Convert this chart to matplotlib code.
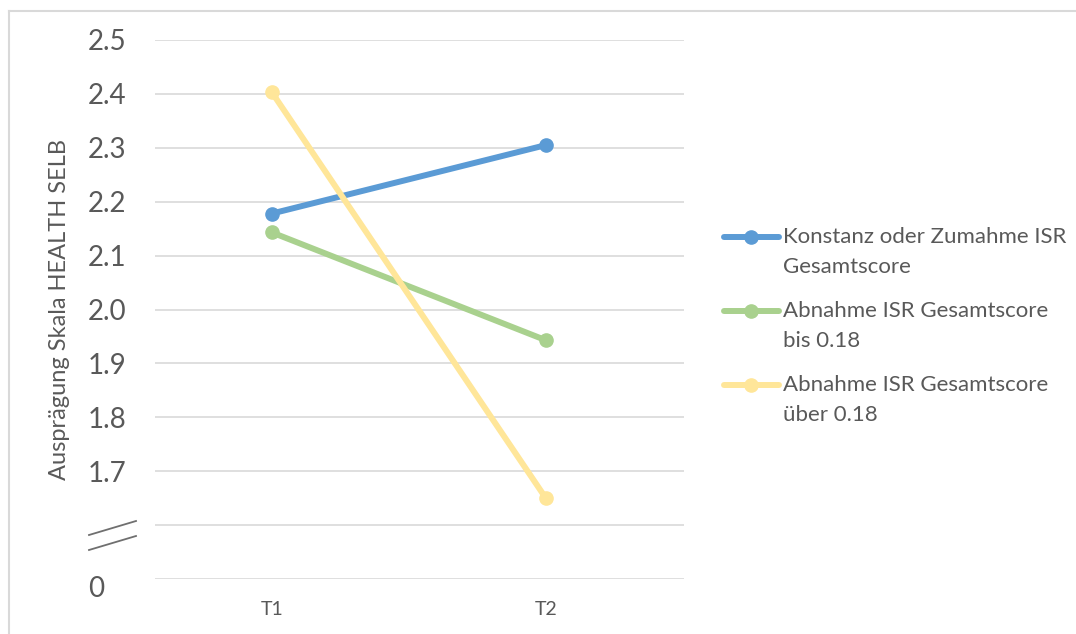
import matplotlib
matplotlib.use("Agg")
import matplotlib.pyplot as plt
from matplotlib.lines import Line2D
from matplotlib.transforms import ScaledTranslation, blended_transform_factory

# --- data ---------------------------------------------------------------
time_points = ["T1", "T2"]
series_labels = [
    "Konstanz oder Zumahme ISR\nGesamtscore",
    "Abnahme ISR Gesamtscore\nbis 0.18",
    "Abnahme ISR Gesamtscore\nüber 0.18",
]
konstanz_zunahme = [2.178, 2.305]
abnahme_bis_018 = [2.143, 1.943]
abnahme_ueber_018 = [2.403, 1.650]

# value axis: the bottom gridline stands for 0 (axis break below 1.7)
y_tick_values = [1.5, 1.6, 1.7, 1.8, 1.9, 2.0, 2.1, 2.2, 2.3, 2.4, 2.5]
y_tick_labels = ["0", "", "1.7", "1.8", "1.9", "2.0", "2.1", "2.2", "2.3", "2.4", "2.5"]
y_axis_title = "Ausprägung Skala HEALTH SELB"

# --- style ----------------------------------------------------------------
W, H = 1076, 634
colors = ["#5B9BD5", "#A9D18E", "#FFE699"]
text_color = "#595959"
grid_color = "#D9D9D9"
plt.rcParams["font.family"] = ["Lato", "DejaVu Sans"]

fig = plt.figure(figsize=(W / 100, H / 100), dpi=100)
ax = fig.add_axes([155 / W, 1 - 579 / H, (684 - 155) / W, (579 - 40) / H])

x = list(range(len(time_points)))
all_series = [konstanz_zunahme, abnahme_bis_018, abnahme_ueber_018]
for vals, col in zip(all_series, colors):
    ax.plot(x, vals, color=col, lw=4.3, marker="o", ms=9.5,
            solid_capstyle="round", zorder=3)

ax.set_xlim(-0.4265, 1.5044)
ax.set_ylim(1.5, 2.5)
ax.set_yticks(y_tick_values)
# the break-axis "0" is set a little lower, as a separate text
ax.set_yticklabels([""] + y_tick_labels[1:])
ax.set_xticks(x)
ax.set_xticklabels(time_points)
ax.yaxis.grid(True, color=grid_color, lw=1.2)
ax.set_axisbelow(True)
for s in ax.spines.values():
    s.set_visible(False)
# value labels are left-aligned in a column starting 67 px left of the plot
ax.tick_params(axis="y", length=0, pad=67 * 0.72, labelsize=20, labelcolor=text_color)
for lbl in ax.get_yticklabels():
    lbl.set_horizontalalignment("left")
ax.tick_params(axis="x", length=0, pad=16, labelsize=14, labelcolor=text_color)
ax.set_ylabel(y_axis_title, fontsize=17, color=text_color, labelpad=0)
ax.yaxis.set_label_coords((70 - 155) / (684 - 155), 0.5)

zero_tr = blended_transform_factory(ax.transAxes, ax.transData) + \
    ScaledTranslation(0, -10 / 100, fig.dpi_scale_trans)
ax.text((88 - 155) / (684 - 155), y_tick_values[0], y_tick_labels[0],
        transform=zero_tr, ha="left", va="center", fontsize=20, color=text_color)


def px(xp, yp):
    return xp / W, 1 - yp / H


# axis break marks
for y0, y1 in [(535, 521), (550, 536)]:
    (ax0, ay0), (ax1, ay1) = px(89, y0), px(136, y1)
    fig.add_artist(Line2D([ax0, ax1], [ay0, ay1], color="#6f6f6f", lw=1.3))

# chart frame (top and left edges)
fig.add_artist(Line2D([8.5 / W, 1], [1 - 10.5 / H, 1 - 10.5 / H], color=grid_color, lw=1.5))
fig.add_artist(Line2D([8.5 / W, 8.5 / W], [0, 1 - 10.5 / H], color=grid_color, lw=1.5))

# legend
for i, (lab, col) in enumerate(zip(series_labels, colors)):
    yline = 237 + i * 74
    fig.add_artist(Line2D([px(724, 0)[0], px(779, 0)[0]], [px(0, yline)[1]] * 2,
                          color=col, lw=4.3, solid_capstyle="round"))
    fig.add_artist(Line2D([px(751, 0)[0]], [px(0, yline)[1]], color=col,
                          marker="o", ms=9.5, lw=0))
    fig.text(px(783, 0)[0], px(0, yline - 10)[1], lab, fontsize=16,
             color=text_color, va="top", ha="left", linespacing=1.62)

fig.savefig("out.png", dpi=100, facecolor="white")
